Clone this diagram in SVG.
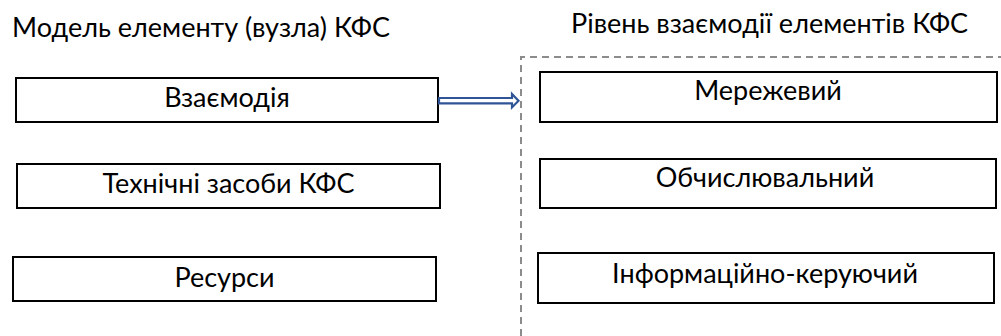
<svg xmlns="http://www.w3.org/2000/svg" width="1001" height="336" viewBox="0 0 1001 336">
<style>
.box{fill:#fff;stroke:#000;stroke-width:2}
.t{font-family:Lato,"Carlito","Liberation Sans",sans-serif;font-size:27px;fill:#000;text-anchor:middle}
.title{font-family:Lato,"Carlito","Liberation Sans",sans-serif;font-size:27px;fill:#000}
</style>
<rect width="1001" height="336" fill="#fff"/>
<text class="title" x="12" y="37">Модель елементу (вузла) КФС</text>
<text class="title" x="571" y="33">Рівень взаємодії елементів КФС</text>
<path id="group-frame" d="M521 336 V57 H1001" fill="none" stroke="#8c8c8c" stroke-width="2" stroke-dasharray="7 5"/>
<g id="n-vzaiemodiia"><rect class="box" x="16" y="78" width="422" height="44"/><text class="t" x="227" y="107">Взаємодія</text></g>
<g id="n-tekhnichni"><rect class="box" x="17" y="164" width="423" height="44"/><text class="t" x="228.5" y="193">Технічні засоби КФС</text></g>
<g id="n-resursy"><rect class="box" x="13" y="257" width="423" height="44"/><text class="t" x="224.5" y="287">Ресурси</text></g>
<g id="n-merezhevyi"><rect class="box" x="540" y="72" width="457" height="50"/><text class="t" x="768" y="100">Мережевий</text></g>
<g id="n-obchysl"><rect class="box" x="540" y="159" width="456" height="49"/><text class="t" x="765" y="187">Обчислювальний</text></g>
<g id="n-inform"><rect class="box" x="538" y="253" width="456" height="50"/><text class="t" x="765" y="283">Інформаційно-керуючий</text></g>
<g id="connectors">
<polygon points="439,98 512,98 512,94 518.5,100.7 512,107.4 512,103.4 439,103.4" fill="#fff" stroke="#2f5597" stroke-width="2.2" stroke-linejoin="miter"/>
</g>
</svg>
